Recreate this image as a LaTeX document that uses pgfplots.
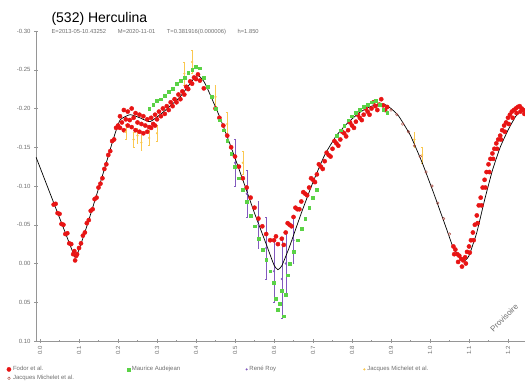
\documentclass[border=0pt]{standalone}
\usepackage{fontspec}
\setmainfont{Liberation Sans}
\usepackage{pgfplots}
\pgfplotsset{compat=1.18}
\definecolor{rd}{RGB}{232,20,20}
\definecolor{gr}{RGB}{90,210,70}
\definecolor{yl}{RGB}{250,200,80}
\definecolor{pu}{RGB}{130,90,190}
\definecolor{dr}{RGB}{170,70,60}
\definecolor{ax}{RGB}{150,150,150}
\definecolor{tl}{RGB}{110,110,110}
\begin{document}
\begin{tikzpicture}
\useasboundingbox (0,0) rectangle (525pt,387pt);
\node[anchor=base west, font=\fontsize{14}{16}\selectfont] at (48pt,364pt) {(532) Herculina};
\node[anchor=base west, font=\fontsize{5.8}{6}\selectfont, text=tl] at (48pt,353pt) {E=2013-05-10.43252\qquad M=2020-11-01\qquad T=0.381916(0.000006)\qquad h=1.850};
\begin{axis}[
  at={(36pt,46pt)}, anchor=south west,
  scale only axis, width=489pt, height=310pt,
  xmin=-0.0103, xmax=1.2436,
  ymin=-0.30, ymax=0.10, y dir=reverse,
  axis x line*=bottom, axis y line*=left,
  axis line style={-, draw=ax},
  xtick={0,0.1,0.2,0.3,0.4,0.5,0.6,0.7,0.8,0.9,1.0,1.1,1.2},
  minor x tick num=1,
  ytick={-0.30,-0.25,-0.20,-0.15,-0.10,-0.05,0,0.05,0.10},
  tick style={draw=ax},
  major tick length=4pt, minor tick length=2pt,
  tick align=center,
  /pgf/number format/assume math mode=true,
  xticklabel style={rotate=90, anchor=east, font=\fontsize{6}{7}\selectfont, text=tl,
     /pgf/number format/.cd, fixed, fixed zerofill, precision=1},
  yticklabel style={font=\fontsize{6}{7}\selectfont, text=tl,
     /pgf/number format/.cd, fixed, fixed zerofill, precision=2},
  scaled y ticks=false,
  clip=false,
  legend columns=4,
  legend cell align=left,
  legend style={at={(-0.06,-0.075)}, anchor=north west, draw=none, fill=none,
     font=\fontsize{6}{7}\selectfont, text=tl, inner sep=0pt, row sep=-1pt,
     /tikz/every even column/.append style={column sep=0pt}},
]
% Fodor et al. (red)
\addplot[only marks, mark=*, mark size=2.1pt, mark options={draw=rd, fill=rd}] coordinates {
(0.035,-0.076)(0.040,-0.077)(0.045,-0.065)(0.050,-0.064)(0.055,-0.051)(0.060,-0.050)(0.065,-0.038)(0.070,-0.039)
(0.075,-0.026)(0.080,-0.025)(0.085,-0.012)(0.088,-0.016)(0.090,-0.004)(0.093,-0.010)(0.095,-0.012)(0.100,-0.020)
(0.105,-0.026)(0.110,-0.036)(0.115,-0.040)(0.120,-0.052)(0.125,-0.056)(0.130,-0.068)(0.135,-0.070)(0.140,-0.083)
(0.145,-0.085)(0.150,-0.098)(0.155,-0.103)(0.160,-0.110)(0.165,-0.122)(0.170,-0.128)(0.175,-0.140)(0.180,-0.145)
(0.185,-0.158)(0.190,-0.160)(0.195,-0.175)(0.200,-0.178)(0.205,-0.190)(0.210,-0.182)(0.215,-0.198)(0.220,-0.186)
(0.225,-0.196)(0.230,-0.185)(0.235,-0.200)(0.240,-0.188)(0.245,-0.194)(0.250,-0.182)(0.255,-0.192)(0.260,-0.180)
(0.265,-0.190)(0.270,-0.178)(0.275,-0.186)(0.280,-0.176)(0.285,-0.188)(0.290,-0.180)(0.295,-0.192)(0.300,-0.186)
(0.305,-0.196)(0.310,-0.190)(0.315,-0.200)(0.320,-0.193)(0.325,-0.203)(0.330,-0.198)(0.335,-0.208)(0.340,-0.203)
(0.345,-0.212)(0.350,-0.208)(0.355,-0.218)(0.360,-0.212)(0.365,-0.222)(0.370,-0.218)(0.375,-0.228)(0.380,-0.225)
(0.385,-0.235)(0.390,-0.232)(0.395,-0.240)(0.400,-0.238)(0.405,-0.244)
(0.205,-0.175)(0.215,-0.172)(0.225,-0.178)(0.235,-0.176)(0.245,-0.172)(0.255,-0.170)(0.265,-0.168)(0.275,-0.170)
(0.285,-0.175)(0.295,-0.178)
(0.410,-0.236)(0.420,-0.226)(0.450,-0.200)(0.460,-0.188)(0.470,-0.178)(0.480,-0.165)
(0.490,-0.150)(0.500,-0.138)(0.510,-0.125)(0.520,-0.110)(0.530,-0.098)(0.540,-0.085)(0.550,-0.072)(0.560,-0.058)
(0.570,-0.048)(0.580,-0.038)(0.590,-0.030)(0.600,-0.030)(0.605,-0.035)(0.610,-0.025)(0.620,-0.032)(0.630,-0.040)
(0.640,-0.050)(0.650,-0.060)(0.660,-0.070)(0.670,-0.080)(0.680,-0.090)(0.690,-0.098)(0.700,-0.108)(0.710,-0.115)
(0.720,-0.125)(0.730,-0.132)(0.740,-0.140)(0.750,-0.148)(0.760,-0.155)(0.770,-0.160)(0.780,-0.168)(0.790,-0.172)
(0.800,-0.178)(0.810,-0.183)(0.820,-0.188)(0.830,-0.192)(0.840,-0.196)(0.850,-0.200)(0.860,-0.203)(0.870,-0.205)
(0.880,-0.204)(0.890,-0.202)
(0.625,-0.024)(0.645,-0.048)(0.665,-0.070)(0.685,-0.088)(0.705,-0.105)(0.725,-0.122)(0.745,-0.138)(0.765,-0.152)
(0.785,-0.164)(0.805,-0.175)(0.825,-0.185)(0.845,-0.192)(0.865,-0.198)(0.885,-0.198)
(0.635,-0.052)(0.655,-0.072)(0.675,-0.092)(0.695,-0.110)(0.715,-0.128)(0.735,-0.143)(0.755,-0.158)(0.775,-0.170)
(0.795,-0.182)(0.815,-0.192)(0.835,-0.200)(0.855,-0.208)(0.875,-0.212)
(1.060,-0.022)(1.065,-0.018)(1.070,-0.012)(1.075,-0.010)(1.080,-0.006)(1.085,-0.004)(1.090,-0.008)(1.095,-0.015)
(1.100,-0.022)(1.105,-0.030)(1.110,-0.040)(1.115,-0.050)(1.120,-0.062)(1.125,-0.075)(1.130,-0.085)(1.135,-0.098)
(1.140,-0.108)(1.145,-0.118)(1.150,-0.128)(1.155,-0.135)(1.160,-0.142)(1.165,-0.148)(1.170,-0.155)(1.175,-0.160)
(1.180,-0.165)(1.185,-0.172)(1.190,-0.178)(1.195,-0.182)(1.200,-0.188)(1.205,-0.192)(1.210,-0.196)(1.215,-0.198)
(1.220,-0.200)(1.225,-0.202)(1.230,-0.203)(1.235,-0.200)(1.240,-0.198)
(1.062,-0.012)(1.072,-0.002)(1.082,0.004)(1.092,0.000)(1.102,-0.014)(1.112,-0.030)(1.122,-0.052)(1.132,-0.075)
(1.142,-0.098)(1.152,-0.118)(1.162,-0.135)(1.172,-0.148)(1.182,-0.160)(1.192,-0.170)(1.202,-0.180)(1.212,-0.188)
(1.222,-0.194)(1.232,-0.196)(1.242,-0.193)
};
% Maurice Audejean (green)
\addplot[only marks, mark=square*, mark size=1.4pt, mark options={draw=gr, fill=gr}] coordinates {
(0.280,-0.200)(0.290,-0.205)(0.300,-0.210)(0.310,-0.212)(0.320,-0.216)(0.330,-0.222)(0.340,-0.226)(0.350,-0.232)
(0.360,-0.236)(0.370,-0.240)(0.380,-0.246)(0.390,-0.250)(0.400,-0.254)(0.410,-0.252)(0.420,-0.240)(0.430,-0.228)
(0.440,-0.215)(0.450,-0.200)(0.460,-0.185)(0.470,-0.172)(0.480,-0.158)(0.490,-0.142)(0.500,-0.125)(0.510,-0.110)
(0.520,-0.095)(0.530,-0.080)(0.540,-0.062)(0.550,-0.048)(0.560,-0.032)(0.570,-0.018)(0.580,-0.005)(0.590,0.010)
(0.600,0.025)(0.605,0.045)(0.610,0.060)(0.615,0.052)(0.620,0.035)(0.625,0.068)(0.630,0.040)(0.635,0.015)
(0.640,0.000)(0.650,-0.015)(0.660,-0.030)(0.670,-0.045)(0.680,-0.058)(0.690,-0.072)(0.700,-0.085)(0.710,-0.095)
(0.760,-0.165)(0.770,-0.172)(0.780,-0.178)(0.790,-0.185)(0.800,-0.190)(0.810,-0.195)(0.820,-0.198)(0.830,-0.202)
(0.840,-0.205)(0.850,-0.208)(0.860,-0.210)(0.870,-0.205)(0.880,-0.198)(0.890,-0.195)
};
% Rene Roy (purple, error bars)
\addplot[only marks, mark=*, mark size=0.8pt, color=pu,
  error bars/.cd, y dir=both, y explicit] table[x=x, y=y, y error=e] {
x y e
0.500 -0.130 0.030
0.530 -0.090 0.030
0.560 -0.050 0.030
0.580 -0.020 0.040
0.600 0.010 0.040
0.620 0.020 0.050
0.630 0.000 0.040
0.650 -0.030 0.030
};
% Jacques Michelet et al. (orange)
\addplot[only marks, mark=*, mark size=0.9pt, color=yl,
  error bars/.cd, y dir=both, y explicit] table[x=x, y=y, y error=e] {
x y e
0.220 -0.170 0.010
0.240 -0.160 0.010
0.250 -0.165 0.010
0.260 -0.156 0.010
0.280 -0.162 0.010
0.300 -0.168 0.010
0.370 -0.245 0.015
0.390 -0.260 0.015
0.450 -0.215 0.015
0.480 -0.180 0.015
0.520 -0.130 0.015
0.960 -0.160 0.010
0.980 -0.140 0.010
};
% second-row series (dark red open circles)
\addplot[only marks, mark=o, mark size=1.3pt, color=dr] coordinates {
(0.900,-0.198)(0.915,-0.192)(0.930,-0.180)(0.945,-0.170)(0.960,-0.152)(0.975,-0.138)(0.990,-0.118)
(1.005,-0.100)(1.020,-0.078)(1.035,-0.058)(1.050,-0.038)
};
% model curve
\addplot[black, line width=0.7pt, smooth, tension=0.3, forget plot] coordinates {
(-0.010,-0.137)(0.020,-0.098)(0.040,-0.072)(0.060,-0.046)(0.080,-0.020)(0.090,-0.008)(0.100,-0.018)
(0.120,-0.048)(0.146,-0.090)(0.170,-0.130)(0.187,-0.159)(0.205,-0.185)(0.231,-0.192)(0.256,-0.188)
(0.282,-0.183)(0.315,-0.195)(0.359,-0.215)(0.392,-0.237)(0.405,-0.243)(0.420,-0.235)
(0.430,-0.225)(0.460,-0.190)(0.490,-0.150)(0.520,-0.108)(0.550,-0.065)(0.580,-0.025)(0.600,0.002)
(0.610,0.008)(0.620,0.003)(0.640,-0.022)(0.670,-0.065)(0.700,-0.105)(0.730,-0.140)(0.760,-0.165)
(0.790,-0.182)(0.820,-0.195)(0.850,-0.203)(0.880,-0.206)(0.900,-0.200)(0.920,-0.190)(0.950,-0.165)
(0.980,-0.130)(1.010,-0.090)(1.040,-0.048)(1.060,-0.020)(1.080,-0.006)(1.090,-0.004)(1.100,-0.010)
(1.120,-0.040)(1.140,-0.082)(1.160,-0.120)(1.180,-0.150)(1.200,-0.172)(1.220,-0.190)(1.240,-0.200)
};
\node[rotate=45, text=tl, font=\fontsize{8}{9}\selectfont] at (axis cs:1.19,0.07) {Provisoire};
\legend{\makebox[112pt][l]{Fodor et al.}, \makebox[112pt][l]{Maurice Audejean}, \makebox[112pt][l]{René Roy}, {Jacques Michelet et al.}, {Jacques Michelet et al.}}
\end{axis}
\end{tikzpicture}
\end{document}
